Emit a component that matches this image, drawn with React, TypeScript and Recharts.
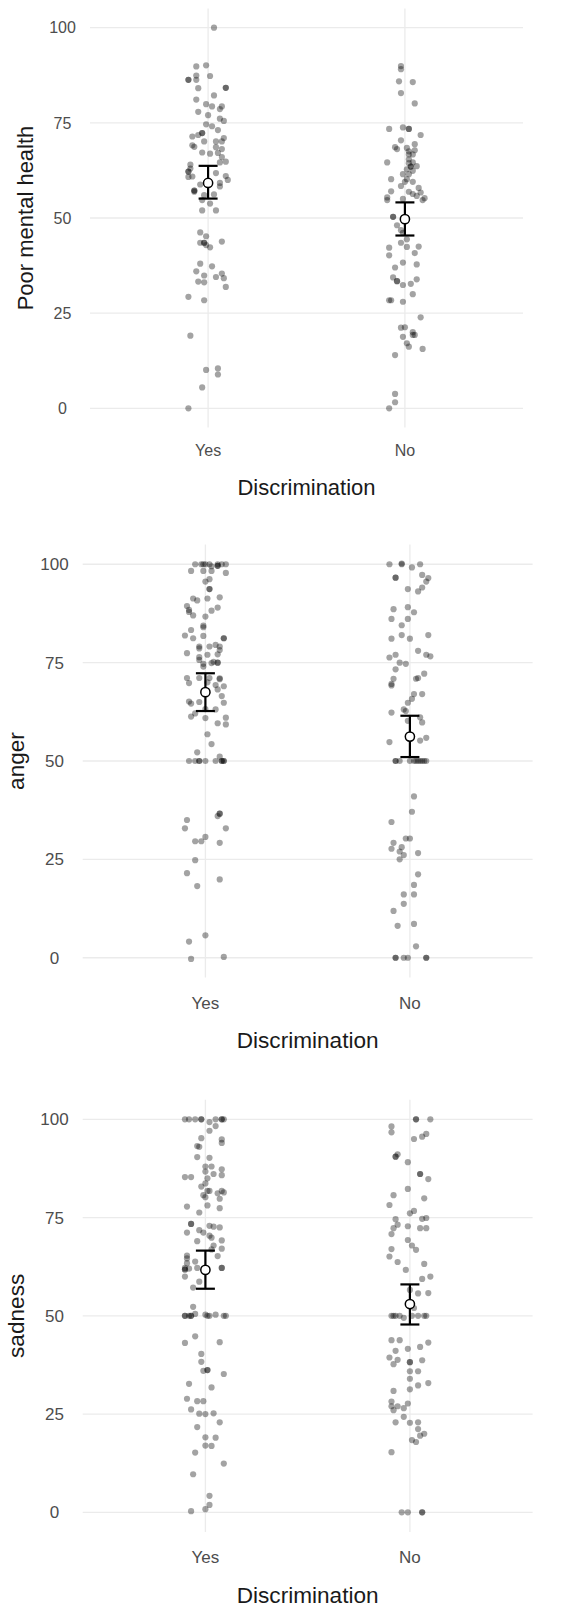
import React from 'react';
import { ScatterChart, Scatter, XAxis, YAxis, ReferenceLine, ErrorBar } from 'recharts';

type Pt = [number, number]; // [horizontal jitter in category units, value]

const groups = ['Yes', 'No'];
const xTicks = [1, 2];
const yTicks = [0, 25, 50, 75, 100];

// Poor mental health
const pmhYes: Pt[] = [
  [0.03, 100], [-0.06, 89.8], [-0.01, 90.1], [-0.06, 87.4], [0.01, 87.3], [-0.1, 86.3], [-0.1, 86.3], [-0.06, 86.3],
  [0.09, 84.2], [0.09, 84.2], [-0.05, 84.1], [0.03, 82.2], [-0.06, 81.1], [-0.01, 79.9], [0.02, 79.3], [0.07, 79.3],
  [0.06, 78.6], [-0.05, 77.9], [0.0, 77.0], [0.06, 76.1], [0.08, 75.5], [-0.01, 74.6], [0.02, 74.1], [0.05, 73.1],
  [-0.03, 72.3], [-0.03, 72.3], [-0.05, 71.8], [-0.08, 71.4], [0.08, 71.0], [-0.02, 70.1], [0.04, 70.1], [0.07, 70.1],
  [-0.08, 69.1], [-0.07, 68.7], [0.04, 68.6], [0.07, 68.1], [-0.03, 67.2], [0.01, 66.9], [0.05, 67.1], [0.07, 66.0],
  [0.09, 64.8], [0.06, 64.6], [-0.09, 64.0], [-0.09, 63.0], [-0.1, 62.2], [-0.1, 62.2], [0.04, 61.8], [0.09, 61.0],
  [0.1, 60.0], [-0.1, 60.8], [-0.08, 60.9], [0.06, 59.2], [0.06, 58.3], [-0.07, 57.2], [-0.07, 57.2], [-0.04, 58.8],
  [-0.07, 56.9], [-0.02, 56.0], [0.03, 56.2], [-0.03, 54.7], [0.01, 53.8], [-0.03, 52.0], [0.04, 52.0], [-0.04, 46.2],
  [-0.01, 45.2], [-0.04, 43.5], [-0.02, 43.5], [-0.02, 43.5], [-0.01, 42.9], [0.01, 42.3], [0.07, 43.8], [-0.04, 38.0],
  [0.02, 37.3], [-0.06, 36.0], [-0.02, 34.9], [0.07, 35.4], [0.08, 34.2], [0.04, 34.5], [-0.05, 33.3], [-0.02, 33.1],
  [0.09, 31.9], [-0.1, 29.3], [-0.02, 28.4], [-0.09, 19.1], [-0.01, 10.1], [0.05, 10.5], [0.05, 8.9], [-0.03, 5.5],
  [-0.1, 0],
];
const pmhNo: Pt[] = [
  [-0.02, 89.9], [-0.02, 89.1], [-0.03, 85.9], [0.04, 85.7], [-0.02, 82.8], [0.05, 80.1], [-0.08, 73.4], [-0.01, 73.8],
  [0.02, 73.4], [0.02, 73.4], [0.08, 71.8], [-0.02, 70.4], [0.05, 69.4], [0.05, 67.8], [-0.05, 68.6], [-0.04, 68.1],
  [0.01, 68.4], [0.02, 67.5], [0.02, 66.7], [0.02, 65.4], [0.04, 66.7], [-0.09, 64.6], [0.04, 64.6], [0.02, 64.4],
  [0.03, 63.5], [0.03, 63.5], [0.06, 63.6], [0.01, 62.8], [0.04, 62.4], [-0.01, 61.5], [0.02, 61.5], [-0.07, 60.2],
  [0.01, 60.2], [0.0, 59.5], [0.04, 59.5], [-0.02, 58.4], [0.07, 57.9], [0.08, 56.7], [-0.07, 57.0], [0.02, 56.9],
  [0.04, 56.3], [0.06, 55.8], [-0.09, 55.4], [0.1, 55.2], [-0.01, 55.0], [-0.09, 54.7], [0.09, 54.7], [-0.06, 50.3],
  [-0.06, 50.3], [-0.04, 48.1], [-0.02, 46.8], [-0.01, 46.1], [0.01, 44.4], [-0.02, 43.5], [0.01, 42.4], [-0.08, 42.2],
  [0.07, 42.5], [-0.08, 40.2], [0.05, 40.8], [-0.01, 38.3], [0.06, 37.8], [-0.05, 37.0], [-0.06, 34.4], [-0.04, 33.4],
  [-0.04, 33.4], [0.06, 33.9], [-0.01, 32.4], [0.03, 32.7], [0.04, 30.0], [-0.08, 28.4], [-0.07, 28.4], [-0.01, 28.0],
  [0.08, 23.9], [-0.02, 21.2], [0.0, 21.3], [0.04, 20.0], [0.05, 19.3], [0.04, 19.3], [-0.01, 18.8], [0.01, 17.1],
  [0.02, 16.2], [0.09, 15.6], [-0.05, 14.0], [-0.05, 3.8], [-0.05, 1.6], [-0.08, 0],
];
const pmhMeans = [59.2, 49.7];
const pmhLow = [55.1, 45.4];
const pmhHigh = [63.7, 54.1];

// anger
const angerYes: Pt[] = [
  [-0.05, 100], [-0.02, 100], [0.0, 100], [0.02, 100], [0.06, 100], [0.08, 100], [0.1, 100], [0.03, 99.5], [-0.01, 100],
  [-0.07, 98.3], [-0.01, 98.3], [0.03, 98.3], [0.1, 97.8], [0.06, 99.6], [0.06, 99.6], [0.0, 95.6], [0.02, 96.2],
  [0.02, 93.7], [0.02, 93.7], [-0.06, 91.3], [-0.04, 90.8], [0.01, 91.3], [0.07, 91.6], [-0.09, 89.4], [-0.08, 88.4],
  [-0.08, 87.9], [-0.06, 87.0], [0.06, 89.0], [0.03, 88.2], [0.0, 86.7], [-0.01, 84.4], [-0.01, 84.0], [-0.07, 83.3],
  [-0.1, 81.9], [-0.06, 81.2], [-0.01, 81.8], [0.09, 81.2], [0.09, 81.2], [-0.03, 79.1], [-0.03, 78.6], [0.02, 79.1],
  [0.05, 79.5], [0.07, 79.1], [0.07, 78.2], [0.06, 77.1], [-0.09, 77.4], [-0.03, 76.4], [0.01, 77.0], [-0.03, 75.7],
  [-0.01, 74.7], [0.03, 74.9], [0.04, 75.2], [0.06, 75.0], [0.06, 75.0], [-0.01, 74.0], [-0.09, 71.1], [-0.08, 69.8],
  [-0.03, 71.1], [0.02, 71.1], [0.07, 71.0], [0.07, 70.8], [0.05, 69.3], [0.09, 69.0], [0.01, 70.0], [0.06, 68.2],
  [0.08, 66.5], [-0.08, 65.1], [-0.07, 64.6], [-0.03, 65.0], [0.09, 64.8], [0.0, 63.2], [0.05, 63.1], [-0.07, 61.3],
  [-0.05, 62.1], [0.0, 60.9], [0.1, 61.0], [0.06, 59.6], [0.1, 59.3], [0.01, 56.8], [0.03, 54.3], [-0.04, 52.2],
  [-0.08, 50], [-0.05, 50], [-0.03, 50], [-0.03, 50], [0.0, 50], [0.05, 50], [0.07, 51.1], [0.08, 50], [0.08, 50],
  [0.09, 50], [0.09, 50], [0.07, 36.6], [0.07, 36.6], [0.06, 36.0], [-0.09, 35.0], [-0.1, 32.9], [0.1, 32.9],
  [0.0, 30.7], [-0.05, 29.6], [-0.02, 29.6], [0.07, 29.2], [-0.05, 24.8], [-0.09, 21.5], [0.07, 19.9], [-0.04, 18.2],
  [-0.08, 4.1], [0.0, 5.7], [-0.07, -0.3], [0.09, 0.2],
];
const angerNo: Pt[] = [
  [-0.1, 100], [-0.04, 100], [-0.04, 100.2], [0.05, 100], [0.01, 99.2], [-0.07, 96.6], [-0.07, 96.6], [0.06, 97.3],
  [0.09, 96.5], [0.08, 95.6], [0.06, 94.1], [0.04, 93.1], [-0.01, 93.7], [-0.08, 88.6], [-0.01, 89.1], [0.02, 87.8],
  [-0.01, 86.1], [-0.09, 86.1], [-0.04, 84.5], [0.09, 82.0], [-0.04, 82.0], [0.0, 81.1], [-0.09, 81.1], [0.04, 78.0],
  [-0.1, 76.3], [-0.07, 77.0], [0.08, 77.0], [0.1, 76.6], [-0.05, 75.0], [-0.02, 74.7], [-0.07, 73.3], [0.07, 72.2],
  [0.04, 71.1], [0.03, 70.9], [-0.08, 70.9], [-0.09, 69.2], [-0.09, 69.6], [0.02, 67.0], [0.06, 67.0], [0.01, 65.8],
  [-0.01, 64.8], [-0.03, 63.1], [-0.09, 62.3], [0.05, 61.1], [0.06, 59.8], [-0.02, 62.7], [-0.01, 60.2], [-0.1, 54.8],
  [0.08, 55.9], [0.05, 55.2], [-0.07, 50], [-0.07, 50], [-0.05, 50], [0.0, 50], [0.02, 50], [0.04, 50], [0.06, 50],
  [0.08, 50], [0.07, 50], [0.03, 50], [0.05, 50], [0.02, 41.0], [0.01, 37.1], [-0.09, 34.5], [-0.02, 30.3], [0.0, 30.3],
  [-0.08, 29.2], [-0.09, 27.7], [-0.04, 28.1], [-0.05, 27.0], [-0.03, 26.1], [0.04, 26.6], [-0.05, 25.0], [0.04, 21.2],
  [0.02, 18.5], [-0.03, 16.1], [0.02, 16.1], [-0.03, 13.7], [-0.08, 11.9], [-0.06, 8.1], [0.02, 8.6], [0.03, 2.9],
  [-0.07, 0], [-0.07, 0], [-0.03, 0], [-0.01, 0], [0.08, 0], [0.08, 0],
];
const angerMeans = [67.5, 56.2];
const angerLow = [62.7, 51.0];
const angerHigh = [72.3, 61.5];

// sadness
const sadYes: Pt[] = [
  [-0.1, 100], [-0.08, 100], [-0.05, 100], [-0.02, 100], [-0.02, 100], [0.05, 100], [0.08, 100], [0.08, 100], [0.09, 100],
  [0.02, 99.3], [0.05, 98.3], [0.02, 97.1], [-0.02, 95.2], [0.08, 94.9], [0.08, 94.0], [-0.04, 93.2], [-0.03, 93.0],
  [-0.04, 90.4], [0.02, 90.2], [0.0, 88.0], [0.03, 88.0], [0.08, 87.3], [0.08, 85.8], [0.04, 86.1], [0.01, 85.0],
  [0.0, 86.7], [-0.1, 85.3], [-0.07, 85.3], [0.0, 83.7], [-0.02, 82.9], [0.02, 81.8], [0.01, 81.8], [0.08, 81.8],
  [0.09, 81.4], [0.06, 81.2], [0.07, 79.8], [-0.01, 80.7], [0.0, 80.2], [-0.09, 77.8], [0.01, 78.1], [0.07, 77.4],
  [-0.03, 76.3], [-0.07, 73.4], [-0.07, 73.4], [0.02, 72.9], [0.04, 72.7], [0.07, 72.5], [-0.03, 71.8], [-0.01, 71.2],
  [0.02, 70.4], [0.03, 69.9], [-0.09, 71.2], [-0.04, 69.0], [0.08, 69.2], [0.04, 67.9], [0.08, 67.1], [0.03, 66.9],
  [-0.09, 65.3], [-0.09, 64.6], [0.06, 65.2], [-0.05, 63.8], [-0.09, 63.4], [-0.1, 62.2], [-0.1, 61.8], [-0.1, 61.8],
  [-0.08, 62.0], [0.08, 62.2], [0.08, 62.2], [-0.04, 62.2], [-0.1, 60.0], [-0.03, 58.7], [-0.06, 57.2], [-0.06, 52.3],
  [-0.1, 50], [-0.1, 50], [-0.08, 50], [-0.07, 50], [-0.07, 50], [-0.05, 50.5], [0.0, 50.3], [0.02, 50], [0.05, 50.3],
  [0.09, 50], [0.1, 50], [0.01, 50], [-0.05, 44.8], [-0.1, 43.1], [0.07, 43.3], [-0.02, 40.3], [-0.02, 38.3],
  [-0.01, 36.0], [0.01, 36.2], [0.01, 36.2], [0.09, 35.2], [-0.08, 32.7], [0.03, 31.8], [-0.09, 28.9], [-0.04, 28.3],
  [-0.01, 28.3], [-0.07, 26.2], [-0.03, 25.1], [0.0, 25.0], [0.04, 25.2], [-0.04, 21.7], [0.07, 22.9], [0.0, 19.1],
  [0.05, 19.0], [0.0, 17.0], [0.03, 16.9], [-0.05, 15.2], [0.09, 12.4], [-0.06, 9.7], [0.02, 4.2], [0.02, 1.9],
  [0.0, 0.8], [-0.07, 0.3],
];
const sadNo: Pt[] = [
  [0.03, 100], [0.03, 100], [0.1, 100], [-0.09, 98.2], [-0.09, 96.7], [0.02, 95.0], [0.06, 95.6], [0.08, 96.3],
  [-0.07, 90.5], [-0.06, 91.1], [-0.07, 90.5], [-0.01, 89.1], [0.05, 86.1], [0.05, 86.1], [0.09, 84.8], [-0.01, 82.3],
  [-0.08, 80.7], [0.07, 79.9], [-0.1, 78.2], [0.0, 76.1], [0.02, 76.7], [0.06, 74.7], [0.08, 74.9], [-0.07, 74.6],
  [-0.06, 73.2], [-0.08, 72.3], [-0.01, 72.8], [0.05, 72.3], [0.08, 72.3], [-0.09, 70.8], [-0.01, 69.3], [0.01, 67.9],
  [0.03, 66.8], [-0.09, 67.0], [-0.1, 65.1], [-0.06, 63.7], [0.07, 63.2], [-0.02, 61.7], [0.1, 60.0], [0.06, 59.4],
  [0.09, 55.8], [0.04, 55.7], [0.0, 56.6], [-0.09, 50], [-0.08, 50], [-0.05, 50], [-0.03, 49.5], [0.01, 50], [0.04, 50],
  [0.07, 50], [0.08, 50], [0.02, 52.0], [-0.07, 50], [-0.09, 43.8], [-0.05, 43.8], [-0.07, 41.1], [-0.01, 41.6],
  [0.05, 42.1], [0.09, 43.2], [-0.1, 39.4], [-0.06, 38.8], [-0.08, 37.7], [0.0, 38.2], [0.0, 38.2], [0.06, 38.7],
  [0.0, 35.9], [0.04, 35.9], [0.0, 34.0], [0.09, 32.9], [0.04, 32.3], [0.0, 31.3], [-0.08, 30.9], [-0.09, 28.2],
  [-0.09, 27.0], [-0.06, 27.0], [-0.01, 27.7], [-0.08, 26.0], [-0.03, 26.5], [-0.03, 24.3], [-0.07, 22.9], [0.0, 22.8],
  [0.04, 22.9], [0.04, 21.2], [0.07, 20.0], [0.01, 18.4], [0.03, 17.9], [0.05, 19.5], [-0.09, 15.3], [-0.04, 0],
  [-0.01, 0], [0.06, 0], [0.06, 0],
];
const sadMeans = [61.7, 53.0];
const sadLow = [56.9, 47.8];
const sadHigh = [66.6, 58.0];

const FONT = "'Liberation Sans', Arial, Helvetica, sans-serif";
const GRID = '#EBEBEB';

const toPoints = (pts: Pt[], pos: number) => pts.map(([j, v]) => ({ x: pos + j, y: v }));
const toMeans = (means: number[], lo: number[], hi: number[]) =>
  means.map((m, i) => ({ x: i + 1, y: m, err: [m - lo[i], hi[i] - m] }));

const Dot = (p: any) => <circle cx={p.cx} cy={p.cy} r={3.1} fill="#000" fillOpacity={0.36} />;
const MeanDot = (p: any) => <circle cx={p.cx} cy={p.cy} r={4.6} fill="#fff" stroke="#000" strokeWidth={1.5} />;

function Panel(props: any) {
  const {
    label, yes, no, means, low, high, top, height, plotLeft, plotRight, plotTop, plotBottom,
    tickFont, titleFont, yTickX, xTickGap, xTitleY, yTitleX,
  } = props;
  const W = 581;
  const xTick = ({ x, y, payload }: any) => (
    <text x={x} y={y + xTickGap} dy="0.36em" textAnchor="middle" fill="#4D4D4D" fontSize={tickFont} fontFamily={FONT}>
      {groups[payload.value - 1]}
    </text>
  );
  const yTick = ({ x, y, payload }: any) => (
    <text x={x - (plotLeft - yTickX)} y={y} dy="0.36em" textAnchor="middle" fill="#4D4D4D" fontSize={tickFont} fontFamily={FONT}>
      {payload.value}
    </text>
  );
  const midY = (plotTop + plotBottom) / 2;
  return (
    <div style={{ position: 'absolute', left: 0, top, width: W, height }}>
      <ScatterChart width={W} height={height} margin={{ top: plotTop, right: W - plotRight, bottom: 0, left: 0 }}>
        <XAxis
          type="number" dataKey="x" domain={[0.4, 2.6]} ticks={xTicks} interval={0}
          axisLine={false} tickLine={false} tickSize={0} tickMargin={0}
          height={height - plotBottom} tick={xTick} allowDataOverflow
        />
        <YAxis
          type="number" dataKey="y" domain={[-5, 105]} ticks={yTicks} interval={0}
          axisLine={false} tickLine={false} tickSize={0} tickMargin={0}
          width={plotLeft} tick={yTick} allowDataOverflow
        />
        {yTicks.map((t) => (
          <ReferenceLine key={'h' + t} y={t} stroke={GRID} strokeWidth={1.3} />
        ))}
        {xTicks.map((t) => (
          <ReferenceLine key={'v' + t} x={t} stroke={GRID} strokeWidth={1.3} />
        ))}
        <Scatter data={toPoints(yes, 1)} shape={Dot} isAnimationActive={false} />
        <Scatter data={toPoints(no, 2)} shape={Dot} isAnimationActive={false} />
        <Scatter data={toMeans(means, low, high)} shape={MeanDot} isAnimationActive={false}>
          <ErrorBar dataKey="err" direction="y" width={9.5} stroke="#000" strokeWidth={2.2} isAnimationActive={false} />
        </Scatter>
      </ScatterChart>
      <svg width={W} height={height} style={{ position: 'absolute', left: 0, top: 0, pointerEvents: 'none' }}>
        <text x={(plotLeft + plotRight) / 2} y={xTitleY} textAnchor="middle" fontSize={titleFont} fontFamily={FONT} fill="#1A1A1A">
          Discrimination
        </text>
        <text
          x={yTitleX} y={midY} textAnchor="middle" fontSize={titleFont} fontFamily={FONT} fill="#1A1A1A"
          transform={`rotate(-90, ${yTitleX}, ${midY})`}
        >
          {label}
        </text>
      </svg>
    </div>
  );
}

export default function App() {
  return (
    <div style={{ position: 'absolute', left: 0, top: 0, width: 581, height: 1608, background: '#fff' }}>
      <Panel
        label="Poor mental health" yes={pmhYes} no={pmhNo} means={pmhMeans} low={pmhLow} high={pmhHigh}
        top={0} height={510} plotLeft={90} plotRight={523} plotTop={8.6} plotBottom={427.4}
        tickFont={16} titleFont={22} yTickX={62.5} xTickGap={23.3} xTitleY={495} yTitleX={33}
      />
      <Panel
        label="anger" yes={angerYes} no={angerNo} means={angerMeans} low={angerLow} high={angerHigh}
        top={536} height={534} plotLeft={82.7} plotRight={532.6} plotTop={8.6} plotBottom={441.4}
        tickFont={17} titleFont={22.6} yTickX={54.5} xTickGap={25.3} xTitleY={512.3} yTitleX={23.5}
      />
      <Panel
        label="sadness" yes={sadYes} no={sadNo} means={sadMeans} low={sadLow} high={sadHigh}
        top={1091} height={517} plotLeft={82.7} plotRight={532.6} plotTop={8.7} plotBottom={441}
        tickFont={17} titleFont={22.6} yTickX={54.5} xTickGap={25.3} xTitleY={511.9} yTitleX={24.5}
      />
    </div>
  );
}
